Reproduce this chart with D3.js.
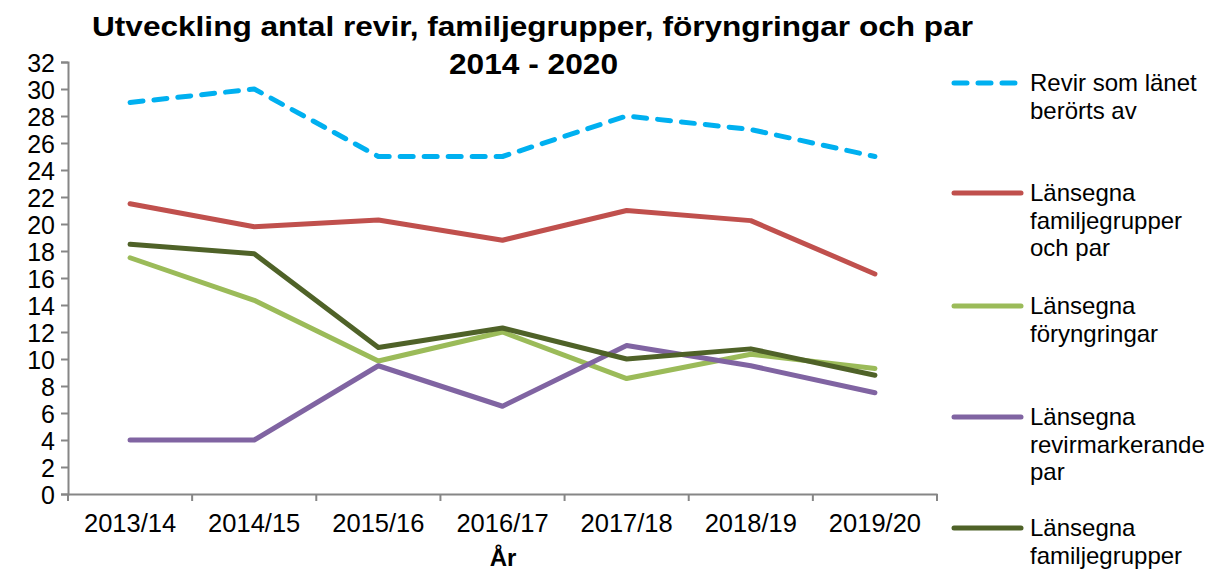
<!DOCTYPE html>
<html>
<head>
<meta charset="utf-8">
<script src="https://cdn.jsdelivr.net/npm/d3@7"></script>
<style>
  body { margin: 0; background: #fff; }
  svg text { font-family: "Liberation Sans", Arial, sans-serif; fill: #000; }
</style>
</head>
<body>
<div id="chart"></div>
<script>
const years = ["2013/14", "2014/15", "2015/16", "2016/17", "2017/18", "2018/19", "2019/20"];
const yTicks = d3.range(0, 33, 2);

const revir = [29, 30, 25, 25, 28, 27, 25];
const familjOchPar = [21.5, 19.8, 20.3, 18.8, 21, 20.25, 16.3];
const foryngringar = [17.5, 14.35, 9.85, 12, 8.55, 10.35, 9.3];
const revirPar = [4, 4, 9.5, 6.5, 11, 9.5, 7.5];
const familjegrupper = [18.5, 17.8, 10.85, 12.3, 10, 10.75, 8.8];

const series = [
  { name: ["Revir som länet", "berörts av"], values: revir, color: "#00B0F0", dash: "13,11" },
  { name: ["Länsegna", "familjegrupper", "och par"], values: familjOchPar, color: "#C0504D" },
  { name: ["Länsegna", "föryngringar"], values: foryngringar, color: "#9BBB59" },
  { name: ["Länsegna", "revirmarkerande", "par"], values: revirPar, color: "#8064A2" },
  { name: ["Länsegna", "familjegrupper"], values: familjegrupper, color: "#4F6228" }
];

const width = 1208, height = 573;
const margin = { top: 62, right: 271, bottom: 79, left: 68 };

const svg = d3.select("#chart").append("svg")
  .attr("width", width)
  .attr("height", height);

const x = d3.scaleBand()
  .domain(years)
  .range([margin.left, width - margin.right]);

const y = d3.scaleLinear()
  .domain([0, 32])
  .range([height - margin.bottom, margin.top]);

const axisColor = "#868686";

// y axis
const yAxis = svg.append("g")
  .attr("transform", `translate(${margin.left},0)`)
  .call(d3.axisLeft(y).tickValues(yTicks).tickSize(7).tickPadding(6));
yAxis.select(".domain").attr("stroke", axisColor).attr("stroke-width", 2);
yAxis.selectAll(".tick line").attr("stroke", axisColor).attr("stroke-width", 2);
yAxis.selectAll("text").style("font-size", "25px").attr("dy", "0.36em");

// x axis
const xAxis = svg.append("g")
  .attr("transform", `translate(0,${y(0)})`)
  .call(d3.axisBottom(x).tickSize(0).tickPadding(20));
xAxis.select(".domain").attr("stroke", axisColor).attr("stroke-width", 2);
xAxis.selectAll("text").style("font-size", "25.5px");

const edges = years.map((d) => x(d)).concat([x(years[years.length - 1]) + x.bandwidth()]);
xAxis.selectAll(".edge")
  .data(edges)
  .enter()
  .append("line")
  .attr("x1", (d) => d)
  .attr("x2", (d) => d)
  .attr("y1", 0)
  .attr("y2", 7)
  .attr("stroke", axisColor)
  .attr("stroke-width", 2);

// lines
const line = d3.line()
  .x((d, i) => x(years[i]) + x.bandwidth() / 2)
  .y((d) => y(d));

series.forEach((s) => {
  svg.append("path")
    .datum(s.values)
    .attr("fill", "none")
    .attr("stroke", s.color)
    .attr("stroke-width", 5)
    .attr("stroke-linejoin", "round")
    .attr("stroke-linecap", "round")
    .attr("stroke-dasharray", s.dash || null)
    .attr("d", line);
});

// legend
const legendY = [83, 193, 306, 417, 528];
const legend = svg.append("g");
series.forEach((s, i) => {
  const g = legend.append("g").attr("transform", `translate(952,${legendY[i]})`);
  g.append("line")
    .attr("x1", 2).attr("x2", 69)
    .attr("stroke", s.color)
    .attr("stroke-width", 5)
    .attr("stroke-linecap", "round")
    .attr("stroke-dasharray", s.dash || null);
  const t = g.append("text")
    .attr("x", 78)
    .attr("y", 8)
    .style("font-size", "24px");
  s.name.forEach((n, j) => {
    t.append("tspan").attr("x", 78).attr("dy", j === 0 ? 0 : 27.5).text(n);
  });
});

// title
svg.append("text")
  .attr("x", 92)
  .attr("y", 36)
  .attr("textLength", 881)
  .attr("lengthAdjust", "spacingAndGlyphs")
  .style("font-size", "27px")
  .style("font-weight", "bold")
  .text("Utveckling antal revir, familjegrupper, föryngringar och par");
svg.append("text")
  .attr("x", 449)
  .attr("y", 74)
  .attr("textLength", 169)
  .attr("lengthAdjust", "spacingAndGlyphs")
  .style("font-size", "30px")
  .style("font-weight", "bold")
  .text("2014 - 2020");

// x axis title
svg.append("text")
  .attr("text-anchor", "middle")
  .attr("x", 503)
  .attr("y", 566)
  .style("font-size", "24px")
  .style("font-weight", "bold")
  .text("År");
</script>
</body>
</html>
